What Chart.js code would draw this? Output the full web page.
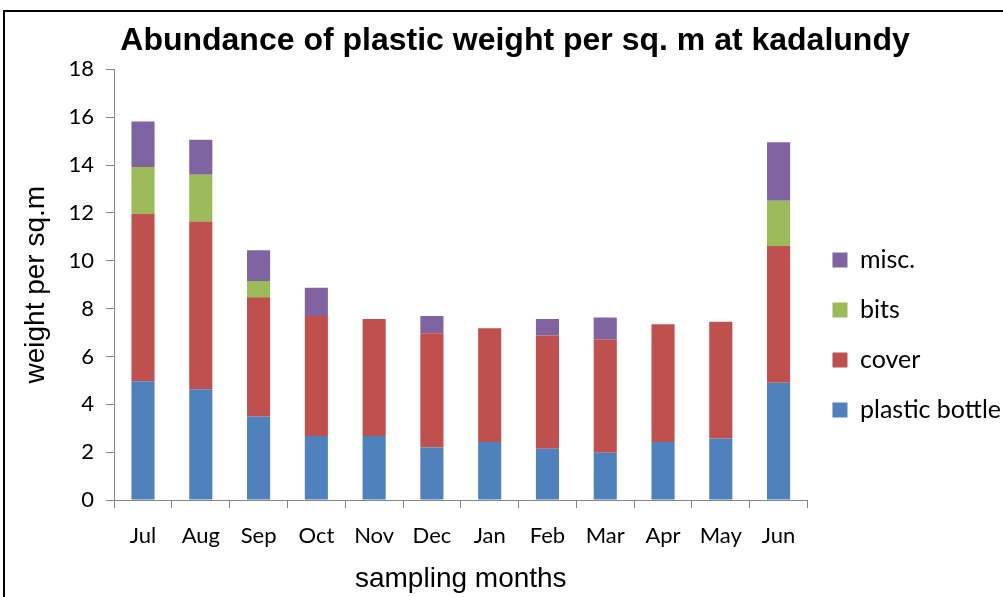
<!DOCTYPE html>
<html>
<head>
<meta charset="utf-8">
<script src="https://cdn.jsdelivr.net/npm/chart.js@4"></script>
<style>
  body { margin: 0; overflow: hidden; background: #fff; }
  #wrap { position: relative; width: 1003px; height: 597px; }
  #frame { position: absolute; left: 3px; top: 10px; width: 1100px; height: 700px; border: 2px solid #000; box-sizing: border-box; }
  canvas { position: absolute; left: 0; top: 0; }
</style>
</head>
<body>
<div id="wrap">
  <div id="frame"></div>
  <canvas id="chart" width="1003" height="597"></canvas>
</div>
<script>
const months = ['Jul', 'Aug', 'Sep', 'Oct', 'Nov', 'Dec', 'Jan', 'Feb', 'Mar', 'Apr', 'May', 'Jun'];
const plasticBottle = [4.96, 4.63, 3.49, 2.68, 2.68, 2.19, 2.42, 2.14, 1.98, 2.42, 2.57, 4.90];
const cover = [7.00, 7.01, 4.99, 5.01, 4.89, 4.78, 4.76, 4.74, 4.73, 4.93, 4.88, 5.72];
const bits = [1.96, 1.96, 0.67, 0, 0, 0, 0, 0, 0, 0, 0, 1.89];
const misc = [1.90, 1.46, 1.29, 1.18, 0, 0.72, 0, 0.69, 0.92, 0, 0, 2.44];

const axisGrey = '#868686';
const tickFont = { family: 'Lato', size: 22 };

new Chart(document.getElementById('chart'), {
    type: 'bar',
    data: {
        labels: months,
        datasets: [
            { label: 'plastic bottle', data: plasticBottle, backgroundColor: '#4F81BD' },
            { label: 'cover', data: cover, backgroundColor: '#C0504D' },
            { label: 'bits', data: bits, backgroundColor: '#9BBB59' },
            { label: 'misc.', data: misc, backgroundColor: '#8064A2' }
        ]
    },
    options: {
        responsive: false,
        animation: false,
        datasets: {
            bar: { barPercentage: 0.8, categoryPercentage: 0.5 } // narrow bars like the excel chart
        },
        layout: {
            padding: { left: 19, right: -8, top: 0, bottom: 1 }
        },
        scales: {
            x: {
                stacked: true,
                grid: { drawOnChartArea: false, color: axisGrey, tickLength: 8, offset: true },
                border: { color: axisGrey },
                ticks: { color: '#000', font: tickFont, padding: 15 },
                title: {
                    display: true,
                    text: 'sampling months',
                    color: '#000',
                    font: { family: 'Liberation Sans', size: 28 },
                    padding: { top: -2, bottom: 0 }
                }
            },
            y: {
                stacked: true,
                min: 0,
                max: 18,
                ticks: { stepSize: 2, color: '#000', font: tickFont, padding: 12 },
                grid: { drawOnChartArea: false, color: axisGrey, tickLength: 8 },
                border: { color: axisGrey },
                title: {
                    display: true,
                    text: 'weight per sq.m',
                    color: '#000',
                    font: { family: 'Liberation Sans', size: 28 },
                    padding: { top: 0, bottom: 4 }
                }
            }
        },
        plugins: {
            title: {
                display: true,
                text: 'Abundance of plastic weight per sq. m at kadalundy',
                color: '#000',
                font: { family: 'Liberation Sans', size: 32, weight: 'bold' },
                padding: { top: 22, bottom: 9 }
            },
            legend: {
                position: 'right',
                reverse: true, // misc on top like the original
                title: {
                    display: true,
                    text: '', // empty title only pushes the items down
                    font: { size: 20 },
                    padding: { top: 0, bottom: 50 }
                },
                labels: {
                    color: '#000',
                    font: { family: 'Lato', size: 25 },
                    boxWidth: 15,
                    boxHeight: 15,
                    padding: 25
                }
            },
            tooltip: { enabled: false }
        }
    }
});
</script>
</body>
</html>
